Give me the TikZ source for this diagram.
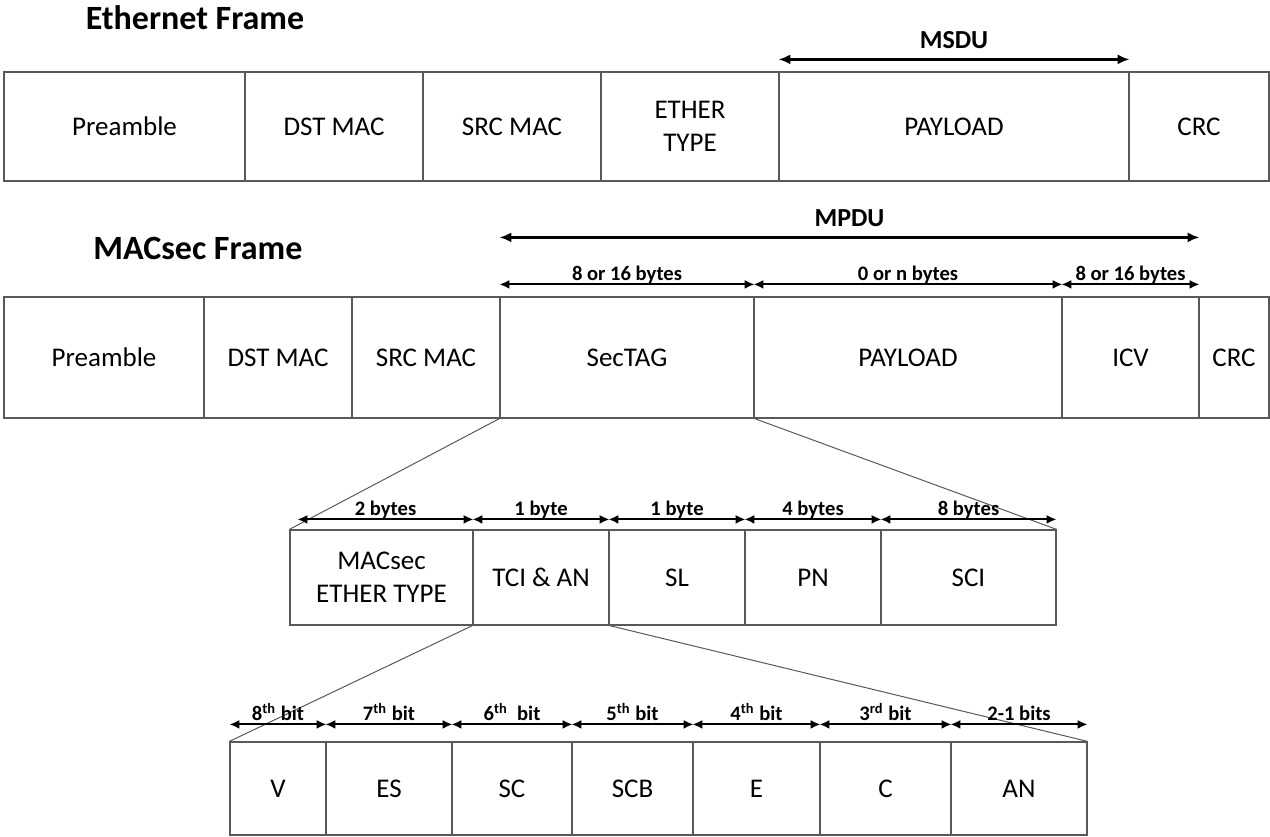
\documentclass[tikz,border=0pt]{standalone}
\usepackage{fontspec}
\setmainfont{Carlito}
\usetikzlibrary{arrows.meta}

% one field of a frame: name, x from, x to, y from, y to, text
\newcommand{\framefield}[6]{%
  \node[field, minimum width={(#3-#2)*0.5pt}, minimum height={(#5-#4)*0.5pt}]
    (#1) at ({(#2+#3)/2},{(#4+#5)/2}) {#6};}

\begin{document}
\begin{tikzpicture}[x=0.5pt,y=-0.5pt,
  field/.style={draw=black!65, line width=0.6pt, inner sep=0pt, align=center,
    font=\fontsize{13.5}{16.5}\selectfont},
  title/.style={font=\fontsize{17}{20}\selectfont\bfseries},
  span/.style={{Latex[length=5pt,width=4.5pt]}-{Latex[length=5pt,width=4.5pt]}, line width=1pt},
  bigspan/.style={{Latex[length=6pt,width=5pt]}-{Latex[length=6pt,width=5pt]}, line width=1.3pt},
  size/.style={midway, anchor=base, inner sep=0pt, yshift=2pt,
    font=\fontsize{10.3}{12}\selectfont\bfseries},
  bigsize/.style={midway, anchor=base, inner sep=0pt, yshift=5.5pt,
    font=\fontsize{13}{15}\selectfont\bfseries},
  zoomline/.style={draw=black!65, line width=0.5pt}]
\useasboundingbox (0,0) rectangle (1270,836);

\node[title] (ethtitle) at (195,18) {Ethernet Frame};
\framefield{pre1}{4}{245}{72}{181}{Preamble}
\framefield{dst1}{245}{423}{72}{181}{DST MAC}
\framefield{src1}{423}{601}{72}{181}{SRC MAC}
\framefield{etype1}{601}{779}{72}{181}{ETHER\\TYPE}
\framefield{pay1}{779}{1129}{72}{181}{PAYLOAD}
\framefield{crc1}{1129}{1269}{72}{181}{CRC}
\draw[bigspan] ([yshift=6pt]pay1.north west) -- ([yshift=6pt]pay1.north east)
  node[bigsize] {MSDU};

\node[title] (mactitle) at (198,248) {MACsec Frame};
\framefield{pre2}{4}{204}{297}{418}{Preamble}
\framefield{dst2}{204}{352}{297}{418}{DST MAC}
\framefield{src2}{352}{500}{297}{418}{SRC MAC}
\framefield{sectag}{500}{754}{297}{418}{SecTAG}
\framefield{pay2}{754}{1062}{297}{418}{PAYLOAD}
\framefield{icv}{1062}{1199}{297}{418}{ICV}
\framefield{crc2}{1199}{1269}{297}{418}{CRC}
\draw[bigspan] ([yshift=29.5pt]sectag.north west) -- ([yshift=29.5pt]icv.north east)
  node[bigsize] {MPDU};
\draw[span] ([yshift=6pt]sectag.north west) -- ([yshift=6pt]sectag.north east)
  node[size] {8 or 16 bytes};
\draw[span] ([yshift=6pt]pay2.north west) -- ([yshift=6pt]pay2.north east)
  node[size] {0 or n bytes};
\draw[span] ([yshift=6pt]icv.north west) -- ([yshift=6pt]icv.north east)
  node[size] {8 or 16 bytes};

\framefield{etype}{290}{473}{530}{625}{MACsec\\ETHER TYPE}
\framefield{tci}{473}{609}{530}{625}{TCI \& AN}
\framefield{sl}{609}{745}{530}{625}{SL}
\framefield{pn}{745}{881}{530}{625}{PN}
\framefield{sci}{881}{1056}{530}{625}{SCI}
\draw[zoomline] (sectag.south west) -- (etype.north west);
\draw[zoomline] (sectag.south east) -- (sci.north east);
\draw[span] ([xshift=4pt,yshift=5pt]etype.north west) -- ([yshift=5pt]etype.north east)
  node[size] {2 bytes};
\draw[span] ([yshift=5pt]tci.north west) -- ([yshift=5pt]tci.north east)
  node[size] {1 byte};
\draw[span] ([yshift=5pt]sl.north west) -- ([yshift=5pt]sl.north east)
  node[size] {1 byte};
\draw[span] ([yshift=5pt]pn.north west) -- ([yshift=5pt]pn.north east)
  node[size] {4 bytes};
\draw[span] ([yshift=5pt]sci.north west) -- ([yshift=5pt]sci.north east)
  node[size] {8 bytes};

\framefield{v}{230}{326}{742}{835}{V}
\framefield{es}{326}{452}{742}{835}{ES}
\framefield{sc}{452}{572}{742}{835}{SC}
\framefield{scb}{572}{693}{742}{835}{SCB}
\framefield{e}{693}{820}{742}{835}{E}
\framefield{c}{820}{951}{742}{835}{C}
\framefield{an}{951}{1087}{742}{835}{AN}
\draw[zoomline] (tci.south west) -- (v.north west);
\draw[zoomline] (tci.south east) -- (an.north east);
\draw[span] ([yshift=8.5pt]v.north west) -- ([yshift=8.5pt]v.north east)
  node[size] {8\textsuperscript{th} bit};
\draw[span] ([yshift=8.5pt]es.north west) -- ([yshift=8.5pt]es.north east)
  node[size] {7\textsuperscript{th} bit};
\draw[span] ([yshift=8.5pt]sc.north west) -- ([yshift=8.5pt]sc.north east)
  node[size] {6\textsuperscript{th}\ \ bit};
\draw[span] ([yshift=8.5pt]scb.north west) -- ([yshift=8.5pt]scb.north east)
  node[size] {5\textsuperscript{th} bit};
\draw[span] ([yshift=8.5pt]e.north west) -- ([yshift=8.5pt]e.north east)
  node[size] {4\textsuperscript{th} bit};
\draw[span] ([yshift=8.5pt]c.north west) -- ([yshift=8.5pt]c.north east)
  node[size] {3\textsuperscript{rd} bit};
\draw[span] ([yshift=8.5pt]an.north west) -- ([yshift=8.5pt]an.north east)
  node[size] {2-1 bits};
\end{tikzpicture}
\end{document}
